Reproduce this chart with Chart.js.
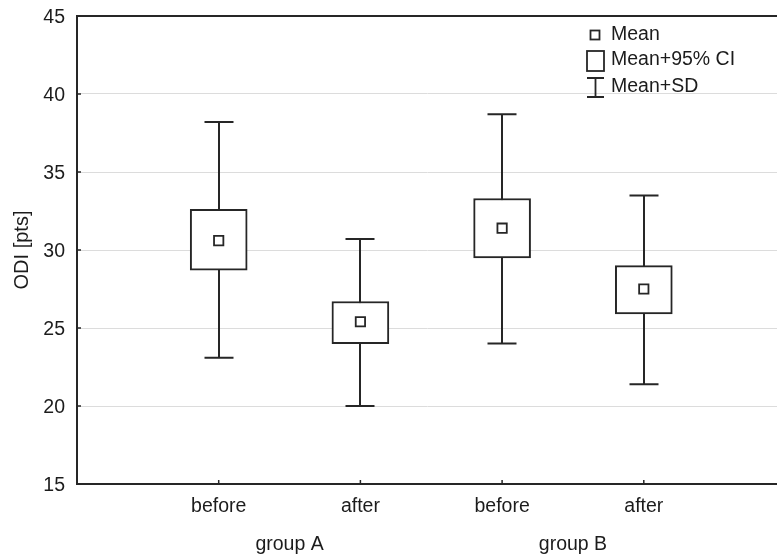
<!DOCTYPE html>
<html>
<head>
<meta charset="utf-8">
<script src="https://cdn.jsdelivr.net/npm/chart.js@4.4.1/dist/chart.umd.min.js"></script>
<style>
  html, body { margin: 0; padding: 0; background: #fff; }
  #chart { display: block; }
</style>
</head>
<body>
<canvas id="chart" width="777" height="557"></canvas>
<script>
// ── data ──
const categories = ['before', 'after', 'before', 'after'];
const groups = ['group A', 'group B'];
const means = [30.6, 25.4, 31.4, 27.5];
const ciLow = [28.7, 24.0, 29.5, 25.9];
const ciHigh = [32.6, 26.7, 33.3, 29.0];
const sdLow = [23.1, 20.0, 24.0, 21.4];
const sdHigh = [38.2, 30.7, 38.7, 33.5];
const yTicks = [15, 20, 25, 30, 35, 40, 45];
const legendLabels = ['Mean', 'Mean+95% CI', 'Mean+SD'];

const FONT = '"Liberation Sans", Arial, sans-serif';
const INK = '#262626';
const TEXT = '#1c1c1c';

// no automatic label overhang, the layout padding decides the plot box
const noOverhang = s => {
  s.paddingTop = 0;
  s.paddingBottom = 0;
  s.paddingLeft = 0;
  s.paddingRight = 0;
};

// whiskers, inward ticks, top frame, category/group labels and legend
const decorations = {
  id: 'decorations',
  beforeDatasetsDraw(chart) {
    const { ctx, scales: { x, y } } = chart;
    ctx.save();
    ctx.strokeStyle = INK;
    ctx.lineWidth = 2;
    sdLow.forEach((lo, i) => {
      const px = Math.round(x.getPixelForValue(i + 1));
      const yHi = y.getPixelForValue(sdHigh[i]);
      const yLo = y.getPixelForValue(lo);
      ctx.beginPath();
      ctx.moveTo(px, yHi);
      ctx.lineTo(px, yLo);
      ctx.moveTo(px - 14.5, yHi);
      ctx.lineTo(px + 14.5, yHi);
      ctx.moveTo(px - 14.5, yLo);
      ctx.lineTo(px + 14.5, yLo);
      ctx.stroke();
    });
    ctx.restore();
  },
  afterDraw(chart) {
    const { ctx, chartArea: area, scales: { x, y } } = chart;
    ctx.save();
    ctx.strokeStyle = INK;
    ctx.lineWidth = 2;

    // top frame line
    ctx.beginPath();
    ctx.moveTo(area.left - 1, area.top);
    ctx.lineTo(area.right, area.top);
    ctx.stroke();

    // inward ticks
    ctx.lineWidth = 1.5;
    ctx.beginPath();
    yTicks.forEach(v => {
      const py = y.getPixelForValue(v);
      ctx.moveTo(area.left, py);
      ctx.lineTo(area.left + 4, py);
    });
    categories.forEach((c, i) => {
      const px = x.getPixelForValue(i + 1);
      ctx.moveTo(px, area.bottom);
      ctx.lineTo(px, area.bottom - 4);
    });
    ctx.stroke();

    // category and group labels
    ctx.fillStyle = TEXT;
    ctx.font = `19.5px ${FONT}`;
    ctx.textAlign = 'center';
    ctx.textBaseline = 'middle';
    categories.forEach((c, i) => ctx.fillText(c, x.getPixelForValue(i + 1), 507));
    groups.forEach((g, i) => {
      const px = (x.getPixelForValue(2 * i + 1) + x.getPixelForValue(2 * i + 2)) / 2;
      ctx.fillText(g, px, 545);
    });

    // legend
    ctx.lineWidth = 1.8;
    ctx.strokeStyle = INK;
    ctx.strokeRect(590.5, 30.5, 9, 9);
    ctx.strokeRect(587, 51, 17, 20);
    ctx.beginPath();
    ctx.moveTo(595.5, 78);
    ctx.lineTo(595.5, 97);
    ctx.moveTo(587, 78);
    ctx.lineTo(604, 78);
    ctx.moveTo(587, 97);
    ctx.lineTo(604, 97);
    ctx.stroke();
    ctx.textAlign = 'left';
    const legendY = [35, 60, 87];
    legendLabels.forEach((t, i) => ctx.fillText(t, 611, legendY[i]));
    ctx.restore();
  },
};

new Chart(document.getElementById('chart'), {
  type: 'bar',
  data: {
    datasets: [
      {
        type: 'scatter',
        data: means.map((m, i) => ({ x: i + 1, y: m })),
        pointStyle: 'rect',
        pointRadius: 6.6,
        backgroundColor: '#fff',
        borderColor: INK,
        borderWidth: 1.8,
        order: 1,
      },
      {
        type: 'bar',
        data: ciLow.map((lo, i) => ({ x: i + 1, y: [lo, ciHigh[i]] })),
        backgroundColor: '#fff',
        borderColor: INK,
        borderWidth: 2,
        borderSkipped: false,
        barThickness: 57,
        order: 2,
      },
    ],
  },
  options: {
    responsive: false,
    animation: false,
    events: [],
    layout: { autoPadding: false, padding: { top: 16, right: 0, left: 0, bottom: 0 } },
    plugins: { legend: { display: false }, tooltip: { enabled: false } },
    scales: {
      x: {
        type: 'linear',
        offset: false,
        min: 0,
        max: 4.94,
        afterFit: s => { s.height = 73; noOverhang(s); },
        grid: { display: false, drawTicks: false, offset: false },
        border: { color: INK, width: 2 },
        ticks: { display: false },
      },
      y: {
        min: 15,
        max: 45,
        afterFit: s => { s.width = 77; noOverhang(s); },
        afterBuildTicks: s => { s.ticks = yTicks.map(v => ({ value: v })); },
        grid: { color: '#dcdcdc', lineWidth: 1, drawTicks: false },
        border: { color: INK, width: 2 },
        ticks: {
          padding: 12,
          labelOffset: 2,
          color: TEXT,
          font: { family: FONT, size: 19.5 },
        },
        title: {
          display: true,
          text: 'ODI [pts]',
          color: TEXT,
          font: { family: FONT, size: 20 },
          padding: { top: 10, bottom: 0 },
        },
      },
    },
  },
  plugins: [decorations],
});
</script>
</body>
</html>
